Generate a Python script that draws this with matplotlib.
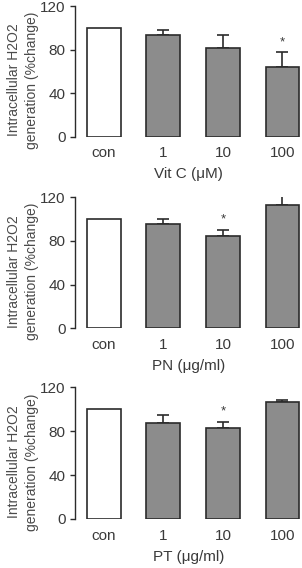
import numpy as np
import matplotlib.pyplot as plt

plt.rcParams['font.family'] = ['Liberation Sans', 'DejaVu Sans']

categories = ["con", "1", "10", "100"]

vitc_mean = [100, 93.4, 81.7, 64.0]
vitc_err = [0, 5.0, 11.7, 13.5]
pn_mean = [100, 95.8, 84.8, 113.2]
pn_err = [0, 4.6, 5.2, 9.2]
pt_mean = [100, 87.7, 83.2, 106.3]
pt_err = [0, 7.3, 5.5, 2.1]

xlabels = ["Vit C (\u03bcM)", "PN (\u03bcg/ml)", "PT (\u03bcg/ml)"]
stars = [[3], [2], [2]]
ylabel = "Intracellular H2O2\ngeneration (%change)"

panels = [(vitc_mean, vitc_err), (pn_mean, pn_err), (pt_mean, pt_err)]
# axes boxes in figure fraction (left, bottom, width, height)
boxes = [(0.248, 0.7593, 0.752, 0.2301),
         (0.248, 0.4220, 0.752, 0.2306),
         (0.248, 0.0863, 0.752, 0.2319)]

fig = plt.figure(figsize=(3.02, 5.68), dpi=100)
text_col = "#3a3a3a"
edge_col = "#2b2b2b"

for i in range(3):
    mean, err = panels[i]
    ax = fig.add_axes(boxes[i])
    x = np.arange(len(categories))
    colors = ["white"] + ["#8c8c8c"] * (len(categories) - 1)
    ax.bar(x, mean, width=0.57, color=colors, edgecolor=edge_col, linewidth=1.2, zorder=2)
    # one-sided error bars (upward only)
    for j in range(1, len(categories)):
        ax.errorbar(x[j], mean[j], yerr=[[0], [err[j]]], fmt="none",
                    ecolor=edge_col, elinewidth=1.2, capsize=4.5, capthick=1.2, zorder=1)
    for j in stars[i]:
        ax.annotate("*", xy=(x[j], mean[j] + err[j]), xytext=(0, 3),
                    textcoords="offset points", ha="center", va="bottom",
                    fontsize=9.5, color=text_col)

    ax.set_xlim(-0.487, 3.328)
    ax.set_ylim(0, 120)
    ax.set_yticks([0, 40, 80, 120])
    ax.set_xticks(x)
    ax.set_xticklabels(categories)
    for s in ["top", "right", "bottom"]:
        ax.spines[s].set_visible(False)
    ax.spines["left"].set_color(edge_col)
    ax.spines["left"].set_linewidth(1.0)
    ax.tick_params(axis="y", length=3.5, width=1.0, colors=edge_col,
                   labelcolor=text_col, labelsize=11, pad=3)
    ax.tick_params(axis="x", length=0, labelcolor=text_col, labelsize=11, pad=7)
    ax.set_xlabel(xlabels[i], fontsize=11, color=text_col, labelpad=5)
    ax.set_ylabel(ylabel, fontsize=10, color="#4a4a4a", linespacing=1.35,
                  va="center", ha="center")
    ax.yaxis.set_label_coords(-0.228, 0.434)

fig.savefig("out.png", dpi=100)
